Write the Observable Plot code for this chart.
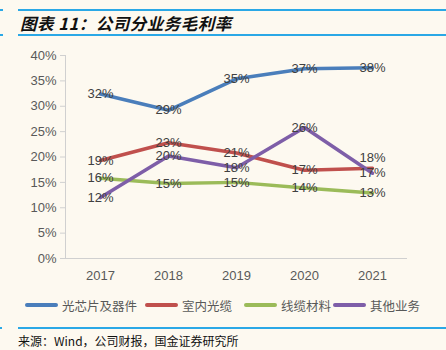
<!DOCTYPE html>
<html><head><meta charset="utf-8">
<script src="https://cdn.jsdelivr.net/npm/d3@7"></script>
<script src="https://cdn.jsdelivr.net/npm/@observablehq/plot@0.6"></script>
<style>
html,body{margin:0;padding:0;background:#fdf9f0;}
#wrap{position:relative;width:446px;height:350px;overflow:hidden;background:#fdf9f0;font-family:"Liberation Sans","Noto Sans CJK SC",sans-serif;}
.hl{position:absolute;height:2px;background:#2aa8e6;}
#title{position:absolute;left:20px;top:11px;font:italic bold 16.5px "Noto Sans CJK SC","Liberation Sans",sans-serif;color:#111;letter-spacing:0.5px;white-space:nowrap;}
#chart{position:absolute;left:0;top:40px;}
#legend{position:absolute;left:0;top:296px;width:446px;height:18px;font:12.5px "Noto Sans CJK SC",sans-serif;color:#595959;}
#legend .it{position:absolute;top:0;display:flex;align-items:center;white-space:nowrap;height:18px;}
#legend .sw{width:33px;height:4px;border-radius:2px;margin-right:4px;}
#source{position:absolute;left:18px;top:332px;font:12px "Noto Sans CJK SC","Liberation Sans",sans-serif;color:#111;white-space:nowrap;}
</style></head>
<body><div id="wrap">
<div class="hl" style="left:18px;right:0;top:9px"></div>
<div class="hl" style="left:0;width:3px;top:9px"></div>
<div id="title">图表 11：公司分业务毛利率</div>
<div class="hl" style="left:18px;right:0;top:34px"></div>
<div class="hl" style="left:0;width:3px;top:34px"></div>
<div id="chart"></div>
<div id="legend"></div>
<div class="hl" style="left:18px;right:0;top:327px"></div>
<div class="hl" style="left:0;width:2px;top:327px"></div>
<div id="source">来源：Wind，公司财报，国金证券研究所</div>
</div>
<script>
const years = ["2017","2018","2019","2020","2021"];
const seriesNames = ["光芯片及器件","室内光缆","线缆材料","其他业务"];
const colors = ["#4a7ebb","#c0504d","#9bbb59","#7e5ea8"];
const opticalChips = [32.4, 29.2, 35.4, 37.4, 37.6];
const indoorCable = [19.3, 22.8, 20.8, 17.4, 17.8];
const cableMaterial = [15.8, 14.8, 15.0, 13.9, 12.9];
const otherBiz = [12.0, 20.2, 17.9, 25.8, 16.8];
const yTicks = [0,5,10,15,20,25,30,35,40];

const allValues = [opticalChips, indoorCable, cableMaterial, otherBiz];
const data = [];
seriesNames.forEach((s,i)=>years.forEach((y,j)=>data.push({series:s, year:y, value:allValues[i][j]})));

const plot = Plot.plot({
  width: 446, height: 250,
  marginLeft: 65, marginRight: 39, marginTop: 15, marginBottom: 32,
  style: {background: "transparent", fontFamily: "Liberation Sans, Arial, sans-serif", fontSize: "13px", color: "#595959"},
  x: {type: "point", domain: years, padding: 0.5, label: null},
  y: {domain: [0, 40], label: null},
  color: {domain: seriesNames, range: colors},
  marks: [
    Plot.axisY({ticks: yTicks, tickFormat: d => d + "%", tickSize: 5, tickPadding: 4, stroke: "#d0d0d0", fill: "#595959", fontSize: 13, label: null}),
    Plot.axisX({tickSize: 0, tickPadding: 12, fill: "#595959", fontSize: 13, label: null}),
    Plot.frame({anchor: "left", stroke: "#d0d0d0"}),
    Plot.ruleY([0], {stroke: "#d0d0d0"}),
    Plot.line(data, {x: "year", y: "value", z: "series", stroke: "series", strokeWidth: 3.5, strokeLinejoin: "round"}),
    Plot.text(data, {x: "year", y: "value", text: d => Math.round(d.value) + "%", fill: "#404040", fontSize: 13,
      dy: 0, filter: d => !(d.series === "室内光缆" && d.year === "2021")}),
    Plot.text(data, {x: "year", y: "value", text: d => Math.round(d.value) + "%", fill: "#404040", fontSize: 13,
      dy: -10, filter: d => d.series === "室内光缆" && d.year === "2021"})
  ]
});
document.getElementById("chart").appendChild(plot);

const legendLeft = [25, 145, 244, 333];
const lg = document.getElementById("legend");
seriesNames.forEach((s,i)=>{
  const it = document.createElement("div"); it.className = "it"; it.style.left = legendLeft[i] + "px";
  const sw = document.createElement("div"); sw.className = "sw"; sw.style.background = colors[i];
  const tx = document.createElement("span"); tx.textContent = s;
  it.appendChild(sw); it.appendChild(tx); lg.appendChild(it);
});
</script>
</body></html>
